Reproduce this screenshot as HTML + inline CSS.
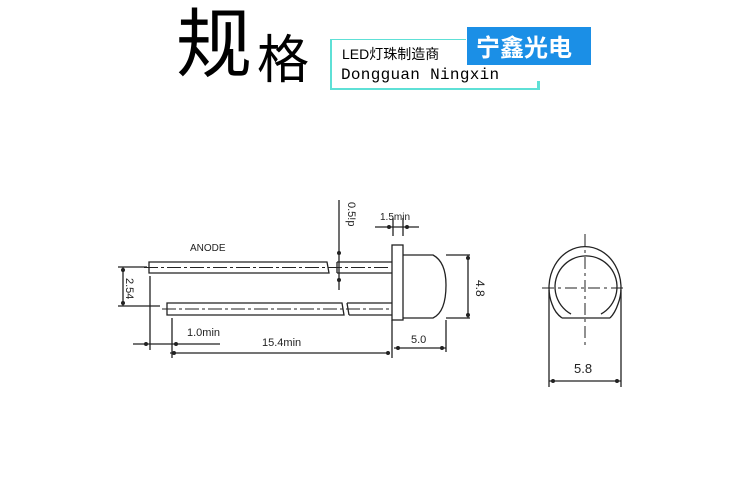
<!DOCTYPE html>
<html><head><meta charset="utf-8"><style>
body{margin:0;background:#fff;width:750px;height:492px;overflow:hidden;position:relative;font-family:"Liberation Sans","Noto Sans CJK SC",sans-serif}
.a{position:absolute;white-space:nowrap;line-height:1}
</style></head><body>
<div class="a" style="left:176px;top:0px;font-size:76px;font-family:'Noto Sans CJK SC',sans-serif">规</div>
<div class="a" style="left:257px;top:30px;font-size:52px;font-family:'Noto Sans CJK SC',sans-serif">格</div>
<div class="a" style="left:330px;top:39px;width:136px;height:0;border-top:1px solid #5ee0d6"></div>
<div class="a" style="left:330px;top:39px;width:0;height:50px;border-left:2px solid #5ee0d6"></div>
<div class="a" style="left:330px;top:88px;width:210px;height:0;border-top:2px solid #5ee0d6"></div>
<div class="a" style="left:537px;top:81px;width:3px;height:8px;background:#5ee0d6"></div>
<div class="a" style="left:467px;top:27px;width:124px;height:38px;background:#1b8fe6"></div>
<div class="a" style="left:476px;top:32px;font-size:24px;color:#fff;font-family:'Noto Sans CJK SC',sans-serif;font-weight:bold;line-height:28px">宁鑫光电</div>
<div class="a" style="left:342px;top:45px;font-size:14px;font-family:'Liberation Sans','Noto Sans CJK SC',sans-serif;line-height:18px">LED灯珠制造商</div>
<div class="a" style="left:341px;top:66px;font-size:16px;font-family:'Liberation Mono',monospace;line-height:18px;letter-spacing:0.3px">Dongguan Ningxin</div>
<svg class="a" style="left:0;top:0" width="750" height="492" viewBox="0 0 750 492">
<g stroke="#222" stroke-width="1.3" fill="none">
<path d="M149 262H327L329 273H149Z"/>
<path d="M337 262H392M337 273H392M337 262V273"/>
<path d="M167 303H342L344 315H167Z"/>
<path d="M347 303H392M349 315H392M347 303L349 315"/>
<path d="M144 267.5H390M162 309H390" stroke-dasharray="14 3 3 3" stroke-width="1"/>
<rect x="392" y="245" width="11" height="75"/>
<path d="M403 255H433Q446 262 446 285Q446 312 433 318H403"/>
<path d="M446 255H470M446 318H470M468 255V318"/>
<path d="M339 200V290"/>
<path d="M375 227H419M393 218V236M403 218V236"/>
<path d="M118 267H147M118 306H160M123 267V306"/>
<path d="M150 276V350M172 318V358M392 320V358M446 320V352"/>
<path d="M133 344H220"/>
<path d="M170 353H390"/>
<path d="M394 348H446"/>
<!-- front view -->
<path d="M562 318H610"/>
<path d="M552 304A36 41 0 1 1 618 304Q615 313 610 318M552 304Q555 313 562 318"/>
<path d="M571 314A31 31 0 1 1 601 314"/>
<path d="M585 234V345" stroke-dasharray="12 4 3 4" stroke-width="1"/>
<path d="M542 288H626" stroke-dasharray="12 4 3 4" stroke-width="1"/>
<path d="M549 290V387M621 290V387M549 381H621"/>
</g>
<g fill="#222">
<circle cx="468" cy="258" r="2"/><circle cx="468" cy="315" r="2"/>
<circle cx="339" cy="253" r="2"/><circle cx="339" cy="280" r="2"/>
<circle cx="389" cy="227" r="2"/><circle cx="407" cy="227" r="2"/>
<circle cx="123" cy="270" r="2"/><circle cx="123" cy="303" r="2"/>
<circle cx="146" cy="344" r="2"/><circle cx="176" cy="344" r="2"/>
<circle cx="174" cy="353" r="2"/><circle cx="388" cy="353" r="2"/>
<circle cx="398" cy="348" r="2"/><circle cx="442" cy="348" r="2"/>
<circle cx="553" cy="381" r="2"/><circle cx="617" cy="381" r="2"/>
</g>
<g font-family="Liberation Sans Narrow,Liberation Sans,sans-serif" font-size="11" fill="#222">
<text x="190" y="251" font-size="10">ANODE</text>
<text x="380" y="220" font-size="10">1.5min</text>
<text x="187" y="336">1.0min</text>
<text x="262" y="346">15.4min</text>
<text x="411" y="343">5.0</text>
<text x="574" y="373" font-size="13">5.8</text>
<text transform="translate(476,280) rotate(90)" font-size="12">4.8</text>
<text transform="translate(348,202) rotate(90)">0.5!p</text>
<text transform="translate(126,278) rotate(90)">2.54</text>
</g>
</svg>
</body></html>
